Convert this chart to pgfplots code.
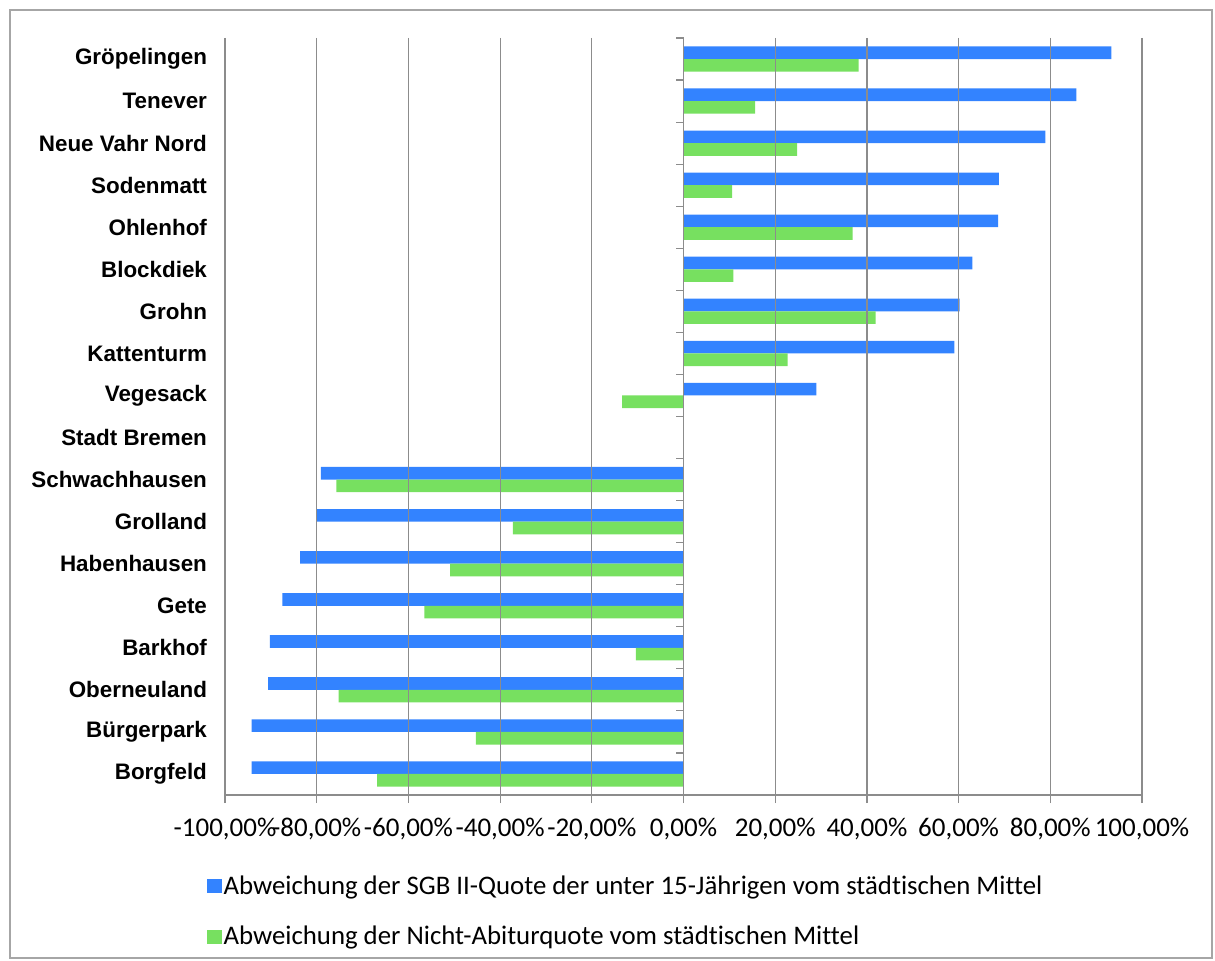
\documentclass[border=0pt]{standalone}
\usepackage{fontspec}
\usepackage{pgfplots}
\usepackage{pgfplotstable}
\pgfplotsset{compat=1.18}
\setmainfont{Carlito}[Ligatures=NoCommon]
\newfontfamily\arialfont{Liberation Sans}
\definecolor{barblue}{RGB}{51,131,255}
\definecolor{bargreen}{RGB}{119,224,96}
\definecolor{gridgray}{RGB}{140,140,140}

\pgfplotstableread{
idx blue green
0 93.3 38.2
1 85.7 15.6
2 78.9 24.8
3 68.8 10.6
4 68.6 36.9
5 63.0 10.9
6 60.2 41.9
7 59.1 22.7
8 29.0 -13.4
9 0 0
10 -79.1 -75.7
11 -80.0 -37.2
12 -83.6 -50.9
13 -87.5 -56.5
14 -90.2 -10.4
15 -90.6 -75.2
16 -94.2 -45.3
17 -94.2 -66.8
}\datatable

\begin{document}
\begin{tikzpicture}
\useasboundingbox (-112.5pt,-83pt) rectangle (495pt,397.5pt);
\draw[gray!70, line width=1pt] (-107.5pt,-81.5pt) rectangle (493.5pt,392.5pt);
\begin{axis}[
  at={(0,0)}, anchor=south west,
  scale only axis,
  width=458.5pt, height=378.5pt,
  xbar, bar width=0.3,
  xmin=-100, xmax=100,
  ymin=-0.5, ymax=17.5,
  y dir=reverse,
  axis x line*=bottom,
  axis y line*=left,
  y axis line style={draw=none},
  x axis line style={gridgray, line width=0.6pt, -},
  xtick={-100,-80,...,100},
  xticklabels={{-100,00\%},{-80,00\%},{-60,00\%},{-40,00\%},{-20,00\%},{0,00\%},{20,00\%},{40,00\%},{60,00\%},{80,00\%},{100,00\%}},
  xticklabel style={font=\fontsize{13.5}{16}\selectfont, yshift=-4pt},
  tick align=outside,
  major x tick style={gridgray, line width=0.6pt},
  major tick length=4pt,
  ytick={0,...,17},
  yticklabels={Gröpelingen,Tenever,Neue Vahr Nord,Sodenmatt,Ohlenhof,Blockdiek,Grohn,Kattenturm,Vegesack,Stadt Bremen,Schwachhausen,Grolland,Habenhausen,Gete,Barkhof,Oberneuland,Bürgerpark,Borgfeld},
  yticklabel style={font=\arialfont\bfseries\fontsize{11.2}{13}\selectfont, xshift=-1.5pt},
  major y tick style={draw=none},
  xmajorgrids,
  grid style={gridgray, line width=0.6pt},
  axis on top,
  legend style={at={(-0.027,-0.098)}, anchor=north west, draw=none, fill=none,
    font=\fontsize{13.4}{15}\selectfont, row sep=12.5pt,
    nodes={inner sep=1pt}},
  legend cell align=left,
  legend image code/.code={\fill[#1,draw=none] (0pt,-3.5pt) rectangle (7.5pt,3.5pt);},
]
\addplot[fill=barblue, draw=none, bar shift=-0.15] table[x=blue, y=idx] {\datatable};
\addplot[fill=bargreen, draw=none, bar shift=0.15] table[x=green, y=idx] {\datatable};
\legend{Abweichung der SGB II-Quote der unter 15-Jährigen vom städtischen Mittel,
        Abweichung der Nicht-Abiturquote vom städtischen Mittel}
\draw[gridgray, line width=0.6pt] (axis cs:0,-0.5) -- (axis cs:0,17.5);
\pgfplotsinvokeforeach{-0.5,0.5,...,17.5}{
  \draw[gridgray, line width=0.6pt] (axis cs:0,#1) -- ++(-4pt,0pt);
}
\end{axis}
\end{tikzpicture}
\end{document}
